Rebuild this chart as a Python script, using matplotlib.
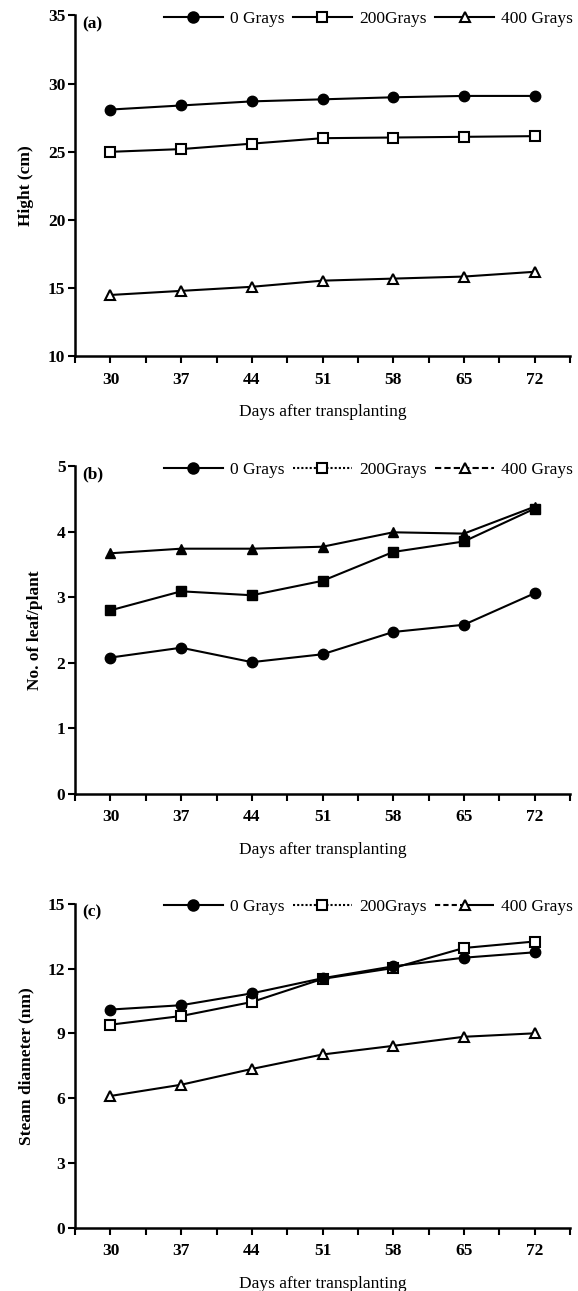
import numpy as np
import matplotlib.pyplot as plt
from matplotlib.lines import Line2D
from matplotlib.ticker import MultipleLocator, FixedLocator

plt.rcParams['font.family'] = ['Liberation Serif', 'DejaVu Serif']

# ---------------- Data ----------------
days = [30, 37, 44, 51, 58, 65, 72]

# (a) plant height (cm)
hight_0 = [28.1, 28.4, 28.7, 28.85, 29.0, 29.1, 29.1]
hight_200 = [25.0, 25.2, 25.6, 26.0, 26.05, 26.1, 26.15]
hight_400 = [14.5, 14.8, 15.1, 15.55, 15.7, 15.85, 16.2]

# (b) number of leaves per plant
leaf_0 = [2.08, 2.23, 2.01, 2.13, 2.47, 2.58, 3.06]
leaf_200 = [2.80, 3.09, 3.03, 3.25, 3.69, 3.85, 4.35]
leaf_400 = [3.67, 3.74, 3.74, 3.77, 3.99, 3.97, 4.38]

# (c) stem diameter (nm)
stem_0 = [10.1, 10.3, 10.85, 11.55, 12.1, 12.5, 12.75]
stem_200 = [9.4, 9.8, 10.45, 11.52, 12.02, 12.95, 13.25]
stem_400 = [6.1, 6.62, 7.35, 8.02, 8.42, 8.84, 9.0]

labels = ['0 Grays', '200Grays', '400 Grays']

# ---------------- Figure ----------------
fig = plt.figure(figsize=(5.78, 12.91), dpi=100)
left, width = 0.13, 0.856
ax_a = fig.add_axes([left, 0.724, width, 0.264])
ax_b = fig.add_axes([left, 0.385, width, 0.254])
ax_c = fig.add_axes([left, 0.049, width, 0.251])

lw = 1.5
ms = 7.5


def style_axis(ax, ylim, ystep, ylabel, tag):
    ax.set_xlim(26.5, 75.5)
    ax.set_ylim(*ylim)
    ax.xaxis.set_major_locator(FixedLocator(days))
    ax.xaxis.set_minor_locator(FixedLocator(np.arange(26.5, 76, 7)))
    ax.yaxis.set_major_locator(MultipleLocator(ystep))
    for s in ['top', 'right']:
        ax.spines[s].set_visible(False)
    for s in ['left', 'bottom']:
        ax.spines[s].set_linewidth(1.8)
    ax.tick_params(axis='both', which='both', direction='out', length=5,
                   width=1.5, labelsize=12.5)
    ax.tick_params(axis='x', pad=6)
    ax.tick_params(axis='y', pad=2)
    for t in ax.get_xticklabels() + ax.get_yticklabels():
        t.set_fontweight('bold')
    ax.set_xlabel('Days after transplanting', fontsize=12.5, labelpad=12)
    ax.set_ylabel(ylabel, fontsize=12.5, fontweight='bold', labelpad=10)
    ax.text(0.015, 0.998, tag, transform=ax.transAxes, ha='left', va='top',
            fontsize=12.5, fontweight='bold')


def add_legend(ax, styles):
    markers = [('o', 'black'), ('s', 'white'), ('^', 'white')]
    handles = []
    for (m, fc), ls in zip(markers, styles):
        handles.append(Line2D([], [], color='black', lw=lw, linestyle=ls,
                              marker=m, markersize=ms, markerfacecolor=fc,
                              markeredgecolor='black', markeredgewidth=1.5))
    ax.legend(handles, labels, loc='upper right', bbox_to_anchor=(1.02, 1.035),
              ncol=3, frameon=False, fontsize=12.5, handlelength=3.4,
              handletextpad=0.4, columnspacing=0.5, borderaxespad=0)


# ---------------- (a) ----------------
ax_a.plot(days, hight_0, color='black', lw=lw, marker='o', ms=ms,
          mfc='black', mec='black')
ax_a.plot(days, hight_200, color='black', lw=lw, marker='s', ms=ms,
          mfc='white', mec='black', mew=1.5)
ax_a.plot(days, hight_400, color='black', lw=lw, marker='^', ms=ms,
          mfc='white', mec='black', mew=1.5)
style_axis(ax_a, (10, 35), 5, 'Hight (cm)', '(a)')
add_legend(ax_a, ['-', '-', '-'])

# ---------------- (b) ----------------
ax_b.plot(days, leaf_0, color='black', lw=lw, marker='o', ms=ms,
          mfc='black', mec='black')
ax_b.plot(days, leaf_200, color='black', lw=lw, marker='s', ms=ms,
          mfc='black', mec='black')
ax_b.plot(days, leaf_400, color='black', lw=lw, marker='^', ms=ms,
          mfc='black', mec='black')
style_axis(ax_b, (0, 5), 1, 'No. of leaf/plant', '(b)')
add_legend(ax_b, ['-', (0, (1, 1)), (0, (3, 1.5))])

# ---------------- (c) ----------------
ax_c.plot(days, stem_200, color='black', lw=lw, marker='s', ms=ms,
          mfc='white', mec='black', mew=1.5)
ax_c.plot(days, stem_0, color='black', lw=lw, marker='o', ms=ms,
          mfc='black', mec='black')
ax_c.plot(days, stem_400, color='black', lw=lw, marker='^', ms=ms,
          mfc='white', mec='black', mew=1.5)
style_axis(ax_c, (0, 15), 3, 'Steam diameter (nm)', '(c)')
add_legend(ax_c, ['-', (0, (1, 1)), (0, (2.5, 1.5, 2.5, 1.5, 2.5, 1.5, 20, 0))])

fig.savefig('out.png', dpi=100)
